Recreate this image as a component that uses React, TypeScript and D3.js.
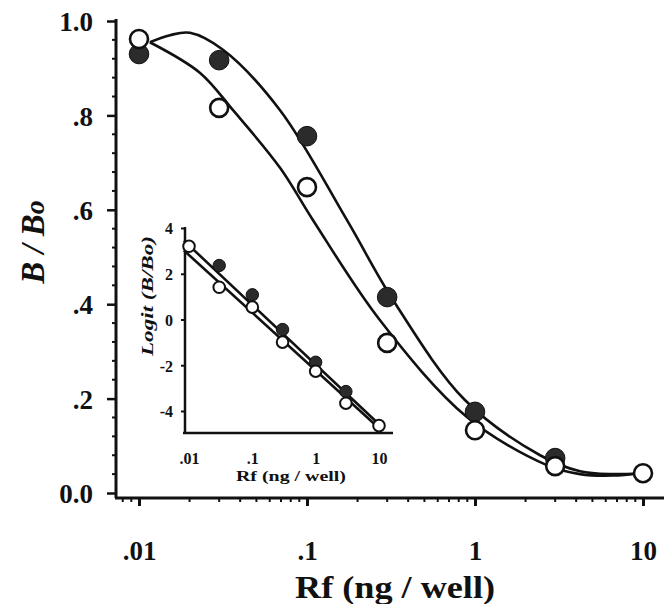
import React, { useEffect, useRef } from "react";
import * as d3 from "d3";

// doses (ng / well)
const doses = [0.01, 0.03, 0.1, 0.3, 1, 3, 10];

// main plot, B/Bo
const filledMain = [0.93, 0.917, 0.756, 0.415, 0.172, 0.074, null];
const openMain = [0.962, 0.816, 0.648, 0.318, 0.133, 0.057, 0.042];

// fitted curves
const upperCurveX = [0.0116, 0.0153, 0.0201, 0.0316, 0.0691, 0.173, 0.325, 0.871, 2.44, 4.22, 6.63, 9.6];
const upperCurveY = [0.955, 0.97, 0.975, 0.939, 0.811, 0.578, 0.409, 0.197, 0.08, 0.046, 0.04, 0.042];
const lowerCurveX = [0.0116, 0.0231, 0.0363, 0.0691, 0.1086, 0.272, 0.895, 2.68, 4.22, 6.63, 9.6];
const lowerCurveY = [0.955, 0.89, 0.811, 0.689, 0.578, 0.366, 0.161, 0.059, 0.04, 0.037, 0.042];

// inset, logit(B/Bo)
const filledInset = [null, 2.36, 1.08, -0.44, -1.87, -3.15, null];
const openInset = [3.2, 1.41, 0.54, -0.99, -2.26, -3.66, -4.64];
const upperLineX = [0.0083, 9.0];
const upperLineY = [3.45, -4.46];
const lowerLineX = [0.0083, 11.1];
const lowerLineY = [3.02, -4.86];

// ticks
const yTickValues = [0, 0.2, 0.4, 0.6, 0.8, 1.0];
const yTickLabels = ["0.0", ".2", ".4", ".6", ".8", "1.0"];
const xTickValues = [0.01, 0.1, 1, 10];
const xTickLabels = [".01", ".1", "1", "10"];
const insetYTickValues = [-4, -2, 0, 2, 4];
const insetYTickLabels = ["-4", "-2", "0", "2", "4"];

const FONT = "'Liberation Serif', 'DejaVu Serif', serif";
const INK = "#111";

export default function App() {
  const ref = useRef<SVGSVGElement>(null);

  useEffect(() => {
    const svg = d3.select(ref.current);
    svg.selectAll("*").remove();

    // scales of the main plot
    const x = d3.scaleLog().domain([0.01, 10]).range([139, 643]);
    const y = d3.scaleLinear().domain([0, 1]).range([493, 21]);
    const axisLeftX = 116;
    const axisBottomY = 498;

    // scales of the inset
    const xi = d3.scaleLog().domain([0.01, 10]).range([189, 379]);
    const yi = d3.scaleLinear().domain([-4, 4]).range([411, 228]);
    const insetLeft = 185;
    const insetBottom = 433;

    const g = svg.append("g");

    // ---- main axes ----
    g.append("line")
      .attr("x1", axisLeftX).attr("x2", axisLeftX)
      .attr("y1", 19).attr("y2", axisBottomY)
      .attr("stroke", INK).attr("stroke-width", 3);
    g.append("line")
      .attr("x1", axisLeftX - 1).attr("x2", 664)
      .attr("y1", axisBottomY).attr("y2", axisBottomY)
      .attr("stroke", INK).attr("stroke-width", 3);

    // y minor ticks every .04
    const yMinor = d3.range(0, 1.001, 0.04).filter((v) => !yTickValues.some((t) => Math.abs(t - v) < 1e-6));
    g.append("g")
      .selectAll("line")
      .data(yMinor)
      .join("line")
      .attr("x1", axisLeftX - 4).attr("x2", axisLeftX + 1)
      .attr("y1", (d) => y(d)).attr("y2", (d) => y(d))
      .attr("stroke", INK).attr("stroke-width", 2);

    const yAxis = g.append("g")
      .attr("transform", `translate(${axisLeftX},0)`)
      .call(
        d3.axisLeft(y)
          .tickValues(yTickValues)
          .tickSize(9)
          .tickPadding(14)
          .tickFormat((d, i) => yTickLabels[i])
      );
    yAxis.select(".domain").remove();
    yAxis.selectAll("line").attr("stroke", INK).attr("stroke-width", 2.5);
    yAxis.selectAll("text")
      .attr("font-family", FONT).attr("font-size", 27).attr("font-weight", "bold")
      .attr("fill", INK).attr("dy", "0.36em");

    // x minor ticks (log)
    const xMinor: number[] = [];
    [0.001, 0.01, 0.1, 1].forEach((dec) => {
      for (let k = 2; k <= 9; k++) xMinor.push(dec * k);
    });
    const xMinorIn = xMinor.filter((v) => x(v) > axisLeftX + 2 && x(v) < 662);
    g.append("g")
      .selectAll("line")
      .data(xMinorIn)
      .join("line")
      .attr("x1", (d) => x(d)).attr("x2", (d) => x(d))
      .attr("y1", axisBottomY).attr("y2", axisBottomY + 4)
      .attr("stroke", INK).attr("stroke-width", 2);

    const xAxis = g.append("g")
      .attr("transform", `translate(0,${axisBottomY})`)
      .call(
        d3.axisBottom(x)
          .tickValues(xTickValues)
          .tickSize(8)
          .tickPadding(35)
          .tickFormat((d, i) => xTickLabels[i])
      );
    xAxis.select(".domain").remove();
    xAxis.selectAll("line").attr("stroke", INK).attr("stroke-width", 3);
    xAxis.selectAll("text")
      .attr("font-family", FONT).attr("font-size", 27).attr("font-weight", "bold")
      .attr("fill", INK);

    // axis titles
    g.append("text")
      .attr("x", 395).attr("y", 598)
      .attr("text-anchor", "middle")
      .attr("font-family", FONT).attr("font-size", 32).attr("font-weight", "bold")
      .attr("fill", INK)
      .attr("textLength", 200).attr("lengthAdjust", "spacingAndGlyphs")
      .text("Rf (ng / well)");

    const yTitle = g.append("text")
      .attr("transform", "translate(44,242) rotate(-90)")
      .attr("text-anchor", "middle")
      .attr("font-family", FONT).attr("font-size", 33).attr("font-weight", "bold")
      .attr("font-style", "italic")
      .attr("fill", INK);
    yTitle.append("tspan").text("B / B");
    yTitle.append("tspan").attr("font-size", 28).text("o");

    // ---- inset axes ----
    g.append("line")
      .attr("x1", insetLeft).attr("x2", insetLeft)
      .attr("y1", 227).attr("y2", insetBottom)
      .attr("stroke", INK).attr("stroke-width", 2.5);
    g.append("line")
      .attr("x1", insetLeft - 2).attr("x2", 393)
      .attr("y1", insetBottom).attr("y2", insetBottom)
      .attr("stroke", INK).attr("stroke-width", 2.5);

    const iyAxis = g.append("g")
      .attr("transform", `translate(${insetLeft},0)`)
      .call(
        d3.axisLeft(yi)
          .tickValues(insetYTickValues)
          .tickSize(4)
          .tickPadding(8)
          .tickFormat((d, i) => insetYTickLabels[i])
      );
    iyAxis.select(".domain").remove();
    iyAxis.selectAll("line").attr("stroke", INK).attr("stroke-width", 2);
    iyAxis.selectAll("text")
      .attr("font-family", FONT).attr("font-size", 16).attr("font-weight", "bold")
      .attr("fill", INK).attr("dy", "0.36em");

    const ixAxis = g.append("g")
      .attr("transform", `translate(0,${insetBottom})`)
      .call(
        d3.axisBottom(xi)
          .tickValues(xTickValues)
          .tickSize(0)
          .tickPadding(20)
          .tickFormat((d, i) => xTickLabels[i])
      );
    ixAxis.select(".domain").remove();
    ixAxis.selectAll("text")
      .attr("font-family", FONT).attr("font-size", 16).attr("font-weight", "bold")
      .attr("fill", INK);

    g.append("text")
      .attr("x", 291).attr("y", 481)
      .attr("text-anchor", "middle")
      .attr("font-family", FONT).attr("font-size", 15).attr("font-weight", "bold")
      .attr("fill", INK)
      .attr("textLength", 110).attr("lengthAdjust", "spacingAndGlyphs")
      .text("Rf (ng / well)");

    g.append("text")
      .attr("transform", "translate(153,296) rotate(-90)")
      .attr("text-anchor", "middle")
      .attr("font-family", FONT).attr("font-size", 17).attr("font-weight", "bold")
      .attr("font-style", "italic")
      .attr("fill", INK)
      .attr("textLength", 120).attr("lengthAdjust", "spacingAndGlyphs")
      .text("Logit (B/Bo)");

    // ---- main curves ----
    const curve = d3.line<[number, number]>()
      .x((d) => x(d[0]))
      .y((d) => y(d[1]))
      .curve(d3.curveCatmullRom.alpha(0.5));

    [
      d3.zip(upperCurveX, upperCurveY),
      d3.zip(lowerCurveX, lowerCurveY),
    ].forEach((pts) => {
      g.append("path")
        .attr("d", curve(pts as [number, number][]))
        .attr("fill", "none")
        .attr("stroke", INK)
        .attr("stroke-width", 2.6);
    });

    // ---- inset lines ----
    const iline = d3.line<[number, number]>()
      .x((d) => xi(d[0]))
      .y((d) => yi(d[1]));
    [
      d3.zip(upperLineX, upperLineY),
      d3.zip(lowerLineX, lowerLineY),
    ].forEach((pts) => {
      g.append("path")
        .attr("d", iline(pts as [number, number][]))
        .attr("fill", "none")
        .attr("stroke", INK)
        .attr("stroke-width", 2.6);
    });

    // ---- points: filled first, open on top ----
    const filledPts = doses.map((d, i) => [d, filledMain[i]]).filter((p) => p[1] !== null) as number[][];
    const openPts = doses.map((d, i) => [d, openMain[i]]).filter((p) => p[1] !== null) as number[][];
    const filledIn = doses.map((d, i) => [d, filledInset[i]]).filter((p) => p[1] !== null) as number[][];
    const openIn = doses.map((d, i) => [d, openInset[i]]).filter((p) => p[1] !== null) as number[][];

    g.append("g").selectAll("circle").data(filledIn).join("circle")
      .attr("cx", (d) => xi(d[0])).attr("cy", (d) => yi(d[1]))
      .attr("r", 6.2).attr("fill", "#2b2b2b").attr("stroke", INK).attr("stroke-width", 1);
    g.append("g").selectAll("circle").data(openIn).join("circle")
      .attr("cx", (d) => xi(d[0])).attr("cy", (d) => yi(d[1]))
      .attr("r", 5.8).attr("fill", "#fff").attr("stroke", INK).attr("stroke-width", 2);

    g.append("g").selectAll("circle").data(filledPts).join("circle")
      .attr("cx", (d) => x(d[0])).attr("cy", (d) => y(d[1]))
      .attr("r", 9.8).attr("fill", "#2b2b2b").attr("stroke", INK).attr("stroke-width", 1);
    g.append("g").selectAll("circle").data(openPts).join("circle")
      .attr("cx", (d) => x(d[0])).attr("cy", (d) => y(d[1]))
      .attr("r", 9).attr("fill", "#fff").attr("stroke", INK).attr("stroke-width", 2.6);
  }, []);

  return (
    <svg
      ref={ref}
      width={664}
      height={604}
      style={{ position: "absolute", left: 0, top: 0, background: "#fff" }}
    />
  );
}
